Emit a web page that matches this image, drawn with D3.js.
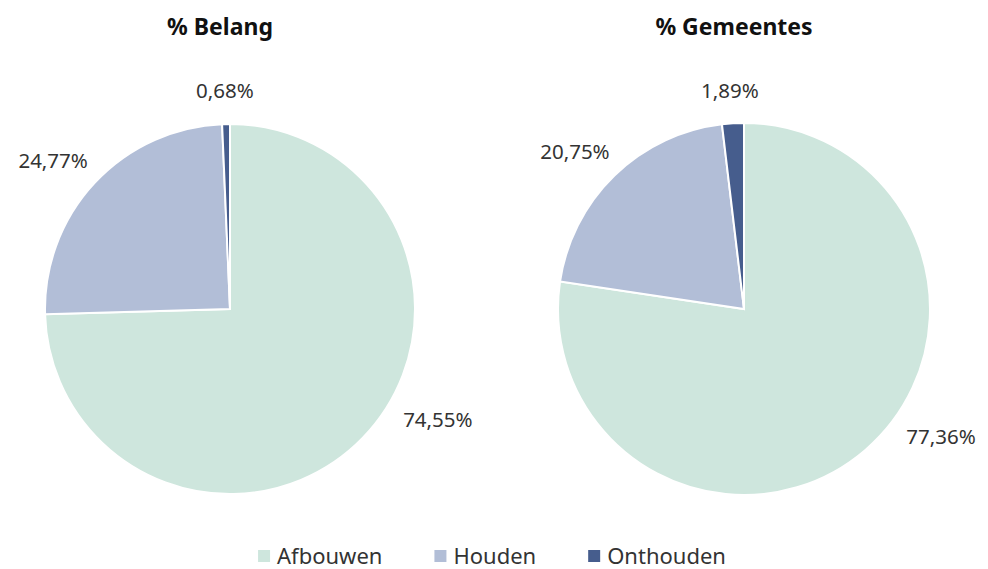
<!DOCTYPE html>
<html>
<head>
<meta charset="utf-8">
<script src="https://cdn.jsdelivr.net/npm/d3@7"></script>
<style>
  body { margin: 0; background: #fff; }
  svg { display: block; font-family: "Noto Sans", "Open Sans", sans-serif; }
</style>
</head>
<body>
<svg id="chart" width="988" height="569"></svg>
<script>
const categories = ["Afbouwen", "Houden", "Onthouden"];
const colors = ["#cee6dd", "#b2bed7", "#465d8d"];
const titles = ["% Belang", "% Gemeentes"];
const belangValues = [74.55, 24.77, 0.68];
const gemeentenValues = [77.36, 20.75, 1.89];

const svg = d3.select("#chart");
const fmt = v => d3.format(".2f")(v).replace(".", ",") + "%";

const pies = [
  { title: titles[0], values: belangValues, cx: 230, r: 185 },
  { title: titles[1], values: gemeentenValues, cx: 744, r: 186 }
];
const cy = 309;

const pie = d3.pie().sort(null).value(d => d);

pies.forEach(p => {
  const g = svg.append("g").attr("transform", `translate(${p.cx},${cy})`);
  const arc = d3.arc().innerRadius(0).outerRadius(p.r);
  const arcs = pie(p.values);

  g.selectAll("path")
    .data(arcs)
    .enter()
    .append("path")
    .attr("d", arc)
    .attr("fill", (d, i) => colors[i])
    .attr("stroke", "#fff")
    .attr("stroke-width", 2);

  // outside-end labels
  arcs.forEach(d => {
    let a = (d.startAngle + d.endAngle) / 2;
    // big slices: Excel pulls the label up towards the side
    if (d.endAngle - d.startAngle > Math.PI) a -= 13.5 * Math.PI / 180;
    const rr = p.r + 22;
    const ax = Math.sin(a) * rr, ay = -Math.cos(a) * rr;
    const t = g.append("text")
      .attr("fill", "#333")
      .style("font-size", "20.5px")
      .attr("text-anchor", "middle")
      .text(fmt(d.data));
    const bb = t.node().getBBox();
    const x = ax + Math.sin(a) * bb.width / 2;
    const y = ay - Math.cos(a) * 11;
    t.attr("x", x).attr("y", y).attr("dy", "0.35em");
  });

  svg.append("text")
    .attr("x", p.cx - 10)
    .attr("y", 35)
    .attr("text-anchor", "middle")
    .attr("fill", "#111")
    .style("font-size", "23px")
    .style("font-weight", "bold")
    .text(p.title);
});

// legend
const legend = svg.append("g");
let lx = 0;
categories.forEach((c, i) => {
  const item = legend.append("g").attr("transform", `translate(${lx},0)`);
  item.append("rect").attr("x", 0).attr("y", -14).attr("width", 12).attr("height", 12).attr("fill", colors[i]);
  const t = item.append("text").attr("x", 19).attr("y", 0).attr("fill", "#333")
    .style("font-size", "22px").text(c);
  lx += 19 + t.node().getComputedTextLength() + 52;
});
const lw = lx - 52;
legend.attr("transform", `translate(${492 - lw / 2},564)`);
</script>
</body>
</html>
